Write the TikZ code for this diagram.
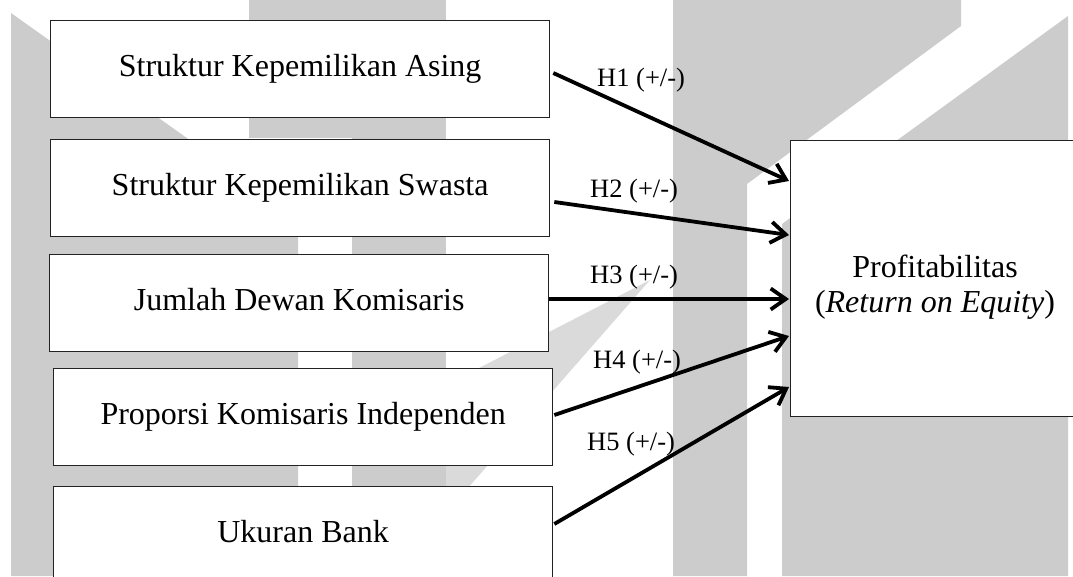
\documentclass[tikz,border=0pt]{standalone}
\usepackage{fontspec}
\setmainfont{Liberation Serif}
\usetikzlibrary{arrows.meta,calc}
\definecolor{wm}{HTML}{CCCCCC}
\definecolor{wmlight}{HTML}{DADADA}
\definecolor{edge}{HTML}{222222}
\begin{document}
\begin{tikzpicture}[x=1pt,y=-1pt,
  varbox/.style={draw=edge, line width=1.3pt, fill=white, minimum width=499pt,
    minimum height=97pt, inner sep=0pt, anchor=north west,
    text height=22pt, text depth=7pt, font=\fontsize{32}{38}\selectfont},
  depbox/.style={draw=edge, line width=1.3pt, fill=white, minimum width=292pt,
    minimum height=276pt, inner sep=0pt, anchor=north west},
  deptext/.style={anchor=base, inner sep=0pt, font=\fontsize{32}{38}\selectfont},
  hyp/.style={font=\fontsize{26.5}{30}\selectfont, anchor=base west, inner sep=0pt},
  link/.style={line width=3.8pt, -{Straight Barb[length=15pt,width=21pt]}}]
\clip (0,0) rectangle (1073,576);
% watermark
\fill[wm] (11,13) -- (298,217) -- (298,576) -- (11,576) -- cycle;
\fill[wm] (249,0) rectangle (352,138);
\fill[wm] (352,0) rectangle (446,576);
\fill[wmlight] (650,280) -- (446,385) -- (446,513) -- cycle;
\fill[wm] (673,0) -- (961,0) -- (961,26) -- (747,184) -- (747,576) -- (673,576) -- cycle;
\fill[wm] (1068,16) -- (782,224) -- (782,576) -- (1068,576) -- cycle;
% boxes
\node[varbox] (b1) at (50,20) {Struktur Kepemilikan Asing};
\node[varbox] (b2) at (50,139) {Struktur Kepemilikan Swasta};
\node[varbox] (b3) at (49,254) {Jumlah Dewan Komisaris};
\node[varbox] (b4) at (53,368) {Proporsi Komisaris Independen};
\node[varbox] (b5) at (53,486) {Ukuran Bank};
\node[depbox] (P) at (790,140) {};
\node[deptext] (pt1) at (935,277) {Profitabilitas};
\node[deptext] (pt2) at (935,312) {(\textit{Return on Equity})};
% connector ends
\coordinate (s1) at ($(b1.north east)+(3,53)$);
\coordinate (s2) at ($(b2.north east)+(4,63)$);
\coordinate (s3) at ($(b3.north east)+(0,45)$);
\coordinate (s4) at ($(b4.north east)+(1,47)$);
\coordinate (s5) at ($(b5.north east)+(1,38)$);
\coordinate (e1) at ($(P.north west)+(-1,41)$);
\coordinate (e2) at ($(P.north west)+(-1,95)$);
\coordinate (e3) at ($(P.north west)+(-1,159)$);
\coordinate (e4) at ($(P.north west)+(-1,196)$);
\coordinate (e5) at ($(P.north west)+(-1,247)$);
\draw[link] (s1) -- (e1);
\draw[link] (s2) -- (e2);
\draw[link] (s3) -- (e3);
\draw[link] (s4) -- (e4);
\draw[link] (s5) -- (e5);
% labels
\node[hyp] (h1) at (597,86) {H1 (+/-)};
\node[hyp] (h2) at (590,197) {H2 (+/-)};
\node[hyp] (h3) at (590,283) {H3 (+/-)};
\node[hyp] (h4) at (593,368) {H4 (+/-)};
\node[hyp] (h5) at (587,450) {H5 (+/-)};
\end{tikzpicture}
\end{document}
